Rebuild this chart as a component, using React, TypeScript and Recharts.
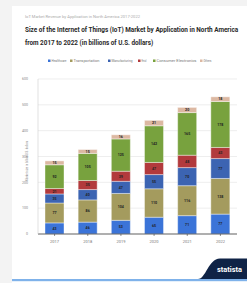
import React from "react";
import { BarChart, Bar, XAxis, YAxis, CartesianGrid, LabelList, Legend } from "recharts";

const years = ["2017", "2018", "2019", "2020", "2021", "2022"];
const healthcare = [43, 46, 53, 65, 71, 77];
const transportation = [77, 86, 104, 110, 116, 138];
const manufacturing = [35, 40, 47, 55, 70, 77];
const retail = [21, 35, 39, 47, 48, 43];
const consumerElectronics = [92, 105, 125, 142, 165, 178];
const others = [15, 15, 16, 21, 20, 18];
const yTicks = [0, 100, 200, 300, 400, 500, 600];

const seriesNames = ["Healthcare", "Transportation", "Manufacturing", "Retail", "Consumer Electronics", "Others"];
const seriesKeys = ["healthcare", "transportation", "manufacturing", "retail", "consumer", "others"];
const colors = ["#3b74d8", "#a49b5e", "#3c64b2", "#b23a3c", "#78a23e", "#dcb8a2"];

const data = years.map((y, i) => ({
  year: y,
  healthcare: healthcare[i],
  transportation: transportation[i],
  manufacturing: manufacturing[i],
  retail: retail[i],
  consumer: consumerElectronics[i],
  others: others[i],
}));

const legendX = [48, 70, 108, 138, 153, 200];
const legendW = [17, 28, 23, 7, 42, 10];

const LegendContent = () => (
  <svg width={247} height={8} style={{ display: "block" }}>
    {seriesNames.map((n, i) => (
      <g key={n}>
        <rect x={legendX[i]} y={2.5} width={2.5} height={2.5} fill={colors[i]} />
        <text x={legendX[i] + 3.5} y={5.2} fontSize={3.6} fill="#777" textLength={legendW[i] - 2} lengthAdjust="spacingAndGlyphs" fontFamily="Roboto, sans-serif">
          {n}
        </text>
      </g>
    ))}
  </svg>
);

export default function App() {
  return (
    <div style={{ position: "absolute", left: 0, top: 0, width: 247, height: 283, background: "#f3f3f3", overflow: "hidden" }}>
      <div style={{ position: "absolute", left: 12, top: 6, width: 235, height: 277, background: "#fff" }} />
      <svg width={247} height={283} style={{ position: "absolute", left: 0, top: 0 }}>
        <text x={25} y={18} fontSize={3.8} fill="#aaa" fontFamily="Roboto, sans-serif" textLength={115} lengthAdjust="spacingAndGlyphs">
          IoT Market Revenue by Application in North America 2017-2022
        </text>
        <g transform="translate(25,32) scale(0.72,1)">
          <text x={0} y={0} fontSize={7} fontWeight={700} fill="#2a2a2a" fontFamily="Roboto, sans-serif" textLength={296} lengthAdjust="spacingAndGlyphs">
            Size of the Internet of Things (IoT) Market by Application in North America
          </text>
        </g>
        <g transform="translate(25,44.5) scale(0.72,1)">
          <text x={0} y={0} fontSize={7} fontWeight={700} fill="#2a2a2a" fontFamily="Roboto, sans-serif" textLength={178} lengthAdjust="spacingAndGlyphs">
            from 2017 to 2022 (in billions of U.S. dollars)
          </text>
        </g>
        <text
          transform="translate(28,161) rotate(-90)"
          textAnchor="middle"
          fontSize={2.8}
          fill="#888"
          fontFamily="Roboto, sans-serif"
        >
          Market size in billion U.S. dollars
        </text>
      </svg>
      <div style={{ position: "absolute", left: 0, top: 0 }}>
        <BarChart width={247} height={283} data={data} margin={{ top: 71, right: 10, bottom: 39, left: 26 }} barSize={19}>
          <CartesianGrid vertical={false} stroke="#e2e2e2" strokeWidth={0.6} />
          <XAxis
            dataKey="year"
            height={10}
            tickLine={{ stroke: "#444", strokeWidth: 0.6 }}
            tickSize={2}
            axisLine={{ stroke: "#444", strokeWidth: 0.8 }}
            tick={{ fontSize: 4, fill: "#777", fontFamily: "Roboto, sans-serif" }}
            tickMargin={4}
            interval={0}
          />
          <YAxis
            width={12}
            domain={[0, 600]}
            ticks={yTicks}
            interval={0}
            tickLine={false}
            axisLine={{ stroke: "#ccc", strokeWidth: 0.6 }}
            tick={{ fontSize: 3.6, fill: "#888", fontFamily: "Roboto, sans-serif" }}
            tickMargin={4}
          />
          <YAxis
            yAxisId="r"
            orientation="right"
            width={0}
            domain={[0, 600]}
            ticks={yTicks}
            tick={false}
            tickLine={false}
            axisLine={{ stroke: "#ccc", strokeWidth: 0.6 }}
          />
          <Legend verticalAlign="top" content={<LegendContent />} wrapperStyle={{ position: "absolute", top: 57, left: 0, width: 247, height: 8 }} />
          {seriesKeys.map((k, i) => (
            <Bar key={k} dataKey={k} name={seriesNames[i]} stackId="a" fill={colors[i]} stroke="#fff" strokeWidth={0.4} isAnimationActive={false}>
              <LabelList dataKey={k} position="center" fontSize={3.6} fill="#222" fontWeight={700} fontFamily="Roboto, sans-serif" />
            </Bar>
          ))}
        </BarChart>
      </div>
      <svg width={247} height={283} style={{ position: "absolute", left: 0, top: 0, pointerEvents: "none" }}>
        <rect x={12} y={279} width={235} height={2.2} fill="#7fb2ea" />
        <path d="M198 279 C 206 279, 208 259, 220 258.5 L 247 258.5 L 247 279 Z" fill="#0f2346" />
        <text x={217} y={272} fontSize={7.5} fontWeight={700} fill="#fff" fontFamily="Roboto, sans-serif" textLength={25} lengthAdjust="spacingAndGlyphs">
          statista
        </text>
      </svg>
    </div>
  );
}
